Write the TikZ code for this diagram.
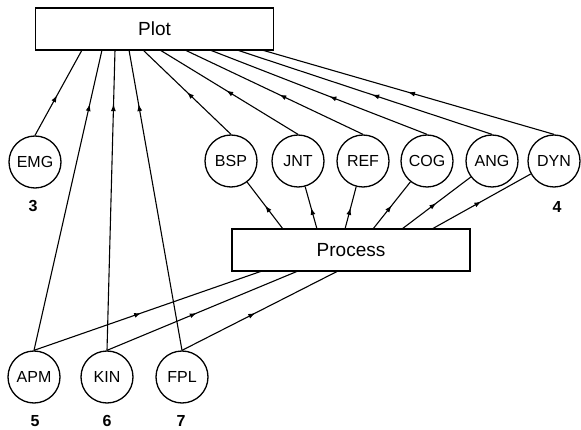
\documentclass[tikz,border=0pt]{standalone}
\usepackage{fontspec}
\setmainfont{Liberation Sans}
\usepackage{xcolor}
\usetikzlibrary{
  positioning,
  calc,
  arrows.meta,
  decorations.markings
}

\tikzset{
  modbox/.style={draw,line width=1.3pt,minimum width=238pt,minimum height=42pt,inner sep=0pt,font=\fontsize{19}{22}\selectfont},
  datacirc/.style={draw,circle,line width=1.3pt,minimum size=52pt,inner sep=0pt,font=\fontsize{16}{19}\selectfont},
  numlabel/.style={font=\fontsize{16}{19}\selectfont\bfseries},
  flow/.style={line width=1.1pt,postaction={decorate},
    decoration={markings,mark=at position #1 with {\arrow{Latex[length=7pt,width=5pt]}}}},
  flow/.default=0.5
}

\begin{document}
\begin{tikzpicture}[x=1pt,y=-1pt]
  \useasboundingbox (0,0) rectangle (581,430);

  % 箱
  \node[modbox] (plot) at (154.5,29) {Plot};
  \node[modbox] (process) at (351,250) {Process};

  % 円
  \node[datacirc] (emg) at (35,162) {EMG};
  \node[datacirc] (bsp) at (231,161) {BSP};
  \node[datacirc] (jnt) at (298,161) {JNT};
  \node[datacirc] (ref) at (363,161) {REF};
  \node[datacirc] (cog) at (427,161) {COG};
  \node[datacirc] (ang) at (492,161) {ANG};
  \node[datacirc] (dyn) at (554,161) {DYN};
  \node[datacirc] (apm) at (34,377) {APM};
  \node[datacirc] (kin) at (107,377) {KIN};
  \node[datacirc] (fpl) at (182,377) {FPL};

  % 番号
  \node[numlabel] (n3) at (33,206) {3};
  \node[numlabel] (n4) at (557,207) {4};
  \node[numlabel] (n5) at (35,421) {5};
  \node[numlabel] (n6) at (107,421) {6};
  \node[numlabel] (n7) at (181,421) {7};

  % 接続点 (Plot の下辺)
  \coordinate (pEMG) at (82,50);
  \coordinate (pAPM) at (102,50);
  \coordinate (pKIN) at (115,50);
  \coordinate (pFPL) at (129,50);
  \coordinate (pBSP) at (143,50);
  \coordinate (pJNT) at (160,50);
  \coordinate (pREF) at (185,50);
  \coordinate (pCOG) at (210,50);
  \coordinate (pANG) at (237,50);
  \coordinate (pDYN) at (262,50);

  % 接続点 (Process の上辺と下辺)
  \coordinate (qBSP) at (283,229);
  \coordinate (qJNT) at (317,229);
  \coordinate (qREF) at (345,229);
  \coordinate (qCOG) at (373,229);
  \coordinate (qANG) at (402,229);
  \coordinate (qDYN) at (432,229);
  \coordinate (qAPM) at (262,271);
  \coordinate (qKIN) at (298,271);
  \coordinate (qFPL) at (338,271);

  % Plot への矢印
  \draw[flow=0.47] (emg.north) -- (pEMG);
  \draw[flow=0.82] (apm.north) -- (pAPM);
  \draw[flow=0.82] (kin.north) -- (pKIN);
  \draw[flow=0.82] (fpl.north) -- (pFPL);
  \draw[flow] (bsp.north) -- (pBSP);
  \draw[flow=0.52] (jnt.north) -- (pJNT);
  \draw[flow=0.47] (ref.north) -- (pREF);
  \draw[flow=0.45] (cog.north) -- (pCOG);
  \draw[flow=0.47] (ang.north) -- (pANG);
  \draw[flow=0.5] (dyn.north) -- (pDYN);

  % Process からの矢印
  \draw[flow] (qBSP) -- (bsp);
  \draw[flow] (qJNT) -- (jnt);
  \draw[flow] (qREF) -- (ref);
  \draw[flow] (qCOG) -- (cog);
  \draw[flow] (qANG) -- (ang);
  \draw[flow] (qDYN) -- (dyn);

  % Process への矢印
  \draw[flow=0.47] (apm.north) -- (qAPM);
  \draw[flow=0.47] (kin.north) -- (qKIN);
  \draw[flow=0.47] (fpl.north) -- (qFPL);
\end{tikzpicture}
\end{document}
